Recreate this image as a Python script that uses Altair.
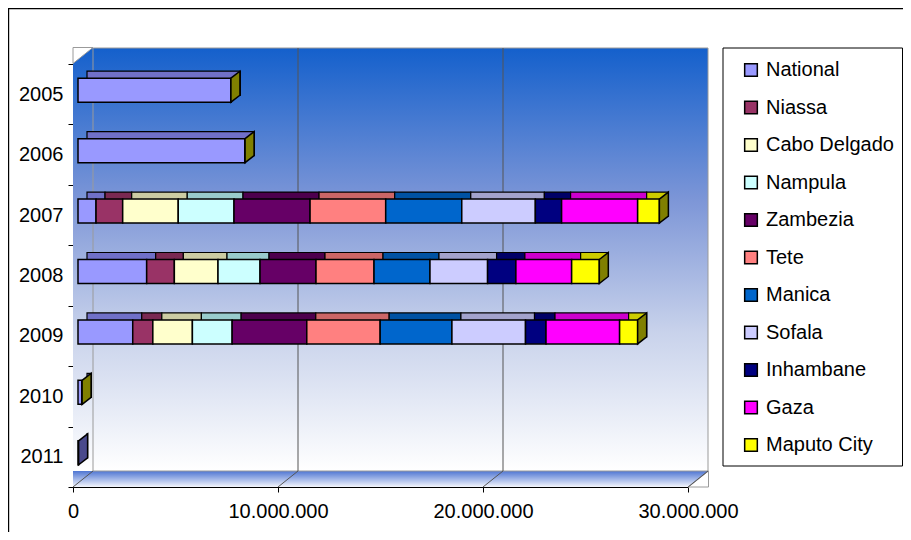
import altair as alt
import pandas as pd

# ---------------- data ----------------
years = ["2005", "2006", "2007", "2008", "2009", "2010", "2011"]
series = ["National", "Niassa", "Cabo Delgado", "Nampula", "Zambezia", "Tete",
          "Manica", "Sofala", "Inhambane", "Gaza", "Maputo City"]

national     = [7460000, 8150000,  880000, 3350000, 2670000, 200000, 30000]
niassa       = [0, 0, 1300000, 1350000,  980000, 0, None]
cabo_delgado = [0, 0, 2710000, 2130000, 1930000, 0, None]
nampula      = [0, 0, 2720000, 2050000, 1940000, 0, None]
zambezia     = [0, 0, 3710000, 2730000, 3640000, 0, None]
tete         = [0, 0, 3690000, 2830000, 3580000, 0, None]
manica       = [0, 0, 3710000, 2730000, 3500000, 0, None]
sofala       = [0, 0, 3590000, 2810000, 3590000, 0, None]
inhambane    = [0, 0, 1280000, 1380000, 1000000, 0, None]
gaza         = [0, 0, 3710000, 2720000, 3590000, 0, None]
maputo_city  = [0, 0, 1060000, 1350000,  880000, 0, None]

x_ticks = [0, 10000000, 20000000, 30000000]

# ---------------- styles ----------------
front_colors = ["#9999FF", "#993366", "#FFFFCC", "#CCFFFF", "#660066", "#FF8080",
                "#0066CC", "#CCCCFF", "#000080", "#FF00FF", "#FFFF00"]
top_colors = ["#7070C8", "#7A2952", "#CCCCA3", "#99CCCC", "#4D004D", "#CC6666",
              "#0052A3", "#A3A3CC", "#000066", "#CC00CC", "#CCCC00"]
side_colors = ["#4A4A8C", "#5C1F3D", "#99997A", "#7A9999", "#330033", "#994D4D",
               "#003D7A", "#7A7A99", "#00004D", "#990099", "#808000"]

values = [national, niassa, cabo_delgado, nampula, zambezia, tete, manica,
          sofala, inhambane, gaza, maputo_city]

seg_rows, cap_rows = [], []
for yi, yr in enumerate(years):
    acc = 0
    last = None
    for si, s in enumerate(series):
        v = values[si][yi]
        if v is None:
            continue
        seg_rows.append({"year": yr, "series": s, "start": acc, "end": acc + v,
                         "top": top_colors[si]})
        acc += v
        last = si
    cap_rows.append({"year": yr, "total": acc, "cap": side_colors[last]})

seg = pd.DataFrame(seg_rows)
caps = pd.DataFrame(cap_rows)
grid = pd.DataFrame({"v": x_ticks})
one = pd.DataFrame({"a": [0]})

W, H = 615, 423
DX, DY = 20, 16  # depth of the 3D box
FONT = "Liberation Sans"

xscale = alt.Scale(domain=[0, 30000000], nice=False, zero=True)
yscale = alt.Scale(domain=years, paddingInner=0, paddingOuter=0)

x_axis = alt.Axis(values=x_ticks, title=None, tickSize=5, labelPadding=9,
                  labelExpr="replace(replace(format(datum.value, ','), ',', '.'), ',', '.')",
                  domainColor="black", tickColor="black", labelFlush=False, grid=False)
y_axis = alt.Axis(title=None, tickBand="extent", tickSize=5, labelPadding=5,
                  domainColor="black", tickColor="black", grid=False)

wall_grad = alt.LinearGradient(
    gradient="linear", x1=0, x2=0, y1=0, y2=1,
    stops=[alt.GradientStop(color="#1460CC", offset=0),
           alt.GradientStop(color="#7D96D7", offset=0.36),
           alt.GradientStop(color="#C8D2EB", offset=0.67),
           alt.GradientStop(color="#FFFFFF", offset=1)])
floor_grad = alt.LinearGradient(
    gradient="linear", x1=0, x2=0, y1=0, y2=1,
    stops=[alt.GradientStop(color="#4F76D3", offset=0),
           alt.GradientStop(color="#F4F6FC", offset=1)])

border = alt.Chart(one).mark_rect(fill=None, stroke="black", strokeWidth=1.2).encode(
    x=alt.value(-64.4), x2=alt.value(2000), y=alt.value(-55.4), y2=alt.value(2000))

wall = alt.Chart(one).mark_rect(fill=wall_grad).encode(
    x=alt.value(0), x2=alt.value(W + DX), y=alt.value(-DY), y2=alt.value(H - DY))
floor = alt.Chart(one).mark_rect(fill=floor_grad).encode(
    x=alt.value(0), x2=alt.value(W + DX), y=alt.value(H - DY), y2=alt.value(H))
wall_edge = alt.Chart(one).mark_rect(fill=None, stroke="#9A9A9A", strokeWidth=1).encode(
    x=alt.value(DX), x2=alt.value(W + DX), y=alt.value(-DY), y2=alt.value(H - DY))

# white corner triangles that turn the rectangles into the 3D box outline
corner_tl = alt.Chart(one).mark_point(
    shape="M0,0L1,0L0,0.8Z", size=1600, filled=True, opacity=1, fill="white",
    stroke="#9A9A9A", strokeWidth=1).encode(x=alt.value(0), y=alt.value(-DY - 0.5))
corner_br = alt.Chart(one).mark_point(
    shape="M0,0L-1,0L0,-0.8Z", size=1600, filled=True, opacity=1, fill="white",
    stroke="#9A9A9A", strokeWidth=1).encode(x=alt.value(W + DX + 0.5), y=alt.value(H))

gridlines = alt.Chart(grid).transform_filter(
    (alt.datum.v > 0) & (alt.datum.v < 30000000)
).mark_rule(color="#555555", strokeWidth=1, xOffset=DX).encode(
    x=alt.X("v:Q", scale=xscale, axis=x_axis),
    y=alt.value(-DY), y2=alt.value(H - DY))

floor_diag = alt.Chart(grid).mark_rule(color="#555555", strokeWidth=1, x2Offset=DX).encode(
    x=alt.X("v:Q", scale=xscale, axis=x_axis), x2=alt.X2("v"),
    y=alt.value(H), y2=alt.value(H - DY))

BAR = 24
TX, TY = 9, 7  # top-face depth of the bars
back = alt.Chart(seg).mark_bar(size=BAR, xOffset=5 + TX, x2Offset=5 + TX, yOffset=-4 - TY,
                               stroke="black", strokeWidth=1.2).encode(
    x=alt.X("start:Q", scale=xscale, axis=x_axis), x2="end:Q",
    y=alt.Y("year:N", scale=yscale, axis=y_axis),
    fill=alt.Fill("top:N", scale=None))

front = alt.Chart(seg).mark_bar(size=BAR, xOffset=5, x2Offset=5, yOffset=-4,
                                stroke="black", strokeWidth=1.5).encode(
    x=alt.X("start:Q", scale=xscale, axis=x_axis),
    x2="end:Q",
    y=alt.Y("year:N", scale=yscale, axis=y_axis),
    fill=alt.Fill("series:N", scale=alt.Scale(domain=series, range=front_colors),
                  legend=alt.Legend(title=None, orient="none", legendX=650, legendY=-16,
                                    direction="vertical", padding=12, symbolOffset=6,
                                    symbolType="square", symbolSize=160,
                                    symbolStrokeColor="black", symbolStrokeWidth=1.5,
                                    labelFont=FONT, labelFontSize=20,
                                    labelColor="black", labelOffset=5, rowPadding=17.5,
                                    labelLimit=300)))

cap_shape = "M0,-1L0.75,-1.583L0.75,0.417L0,1Z"
cap = alt.Chart(caps).mark_point(shape=cap_shape, size=BAR * BAR, filled=True,
                                 opacity=1, stroke="black", strokeWidth=1.5,
                                 xOffset=5, yOffset=-4).encode(
    x=alt.X("total:Q", scale=xscale, axis=x_axis),
    y=alt.Y("year:N", scale=yscale, axis=y_axis),
    fill=alt.Fill("cap:N", scale=None))

legend_box = alt.Chart(one).mark_rect(fill="white", stroke="black", strokeWidth=1).encode(
    x=alt.value(650), x2=alt.value(829.5), y=alt.value(-16), y2=alt.value(402))

chart = alt.layer(border, wall, floor, corner_br, wall_edge, corner_tl, gridlines,
                  floor_diag, legend_box, back, front, cap).properties(
    width=W, height=H,
    autosize=alt.AutoSizeParams(type="none"),
    padding={"left": 65, "top": 56, "right": 215, "bottom": 45},
    background="white",
).configure_view(stroke=None).configure_axis(
    labelFont=FONT, labelFontSize=20, labelColor="black", grid=False
).configure_legend(strokeColor=None, fillColor=None)

chart.save("out.html", embed_options={"renderer": "svg", "actions": False})
